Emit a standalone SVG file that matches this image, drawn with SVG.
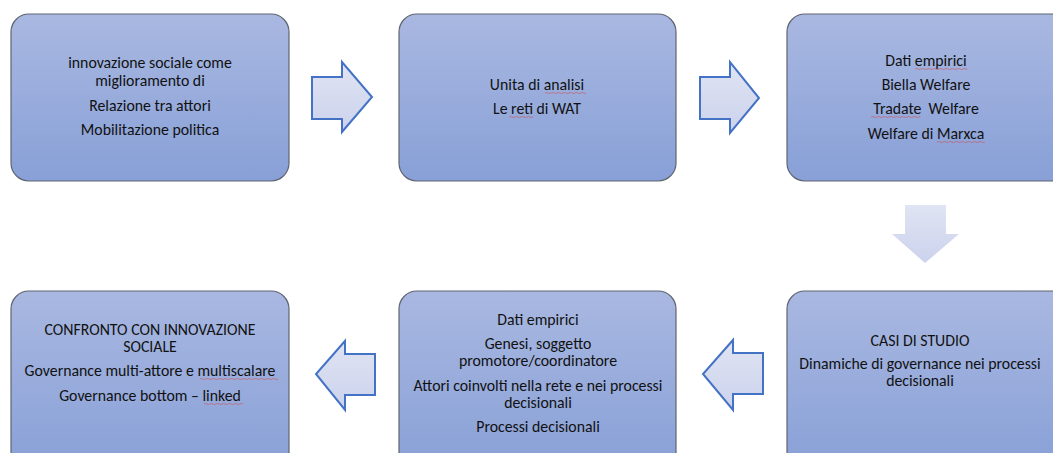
<svg xmlns="http://www.w3.org/2000/svg" width="1053" height="453" viewBox="0 0 1053 453">
  <defs>
    <linearGradient id="boxFill" x1="0" y1="0" x2="0" y2="1">
      <stop offset="0" stop-color="#a9b8e1"/>
      <stop offset="1" stop-color="#88a0d7"/>
    </linearGradient>
    <linearGradient id="arrowFill" x1="0" y1="0" x2="0" y2="1">
      <stop offset="0" stop-color="#e0e4f3"/>
      <stop offset="1" stop-color="#cbd2ec"/>
    </linearGradient>
  </defs>
  <style>
    .box { fill: url(#boxFill); stroke: #5f6470; stroke-width: 1.2; }
    .arrow { fill: url(#arrowFill); stroke: #4472c4; stroke-width: 2; stroke-linejoin: miter; }
    .arrow-faint { fill: url(#arrowFill); stroke: none; }
    .label { font-family: Carlito, Lato, "Liberation Sans", sans-serif; font-size: 15.8px; fill: #111111; text-anchor: middle; }
    .spell { fill: none; stroke: #d04a4a; stroke-width: 0.8; opacity: 0.7; }
  </style>

  <!-- flow connectors -->
  <g id="connectors">
    <polygon class="arrow" points="312,77 342,77 342,62 372,97 342,132 342,119 312,119"/>
    <polygon class="arrow" points="700,77 730,77 730,62 759,98 730,133 730,119 700,119"/>
    <polygon class="arrow-faint" points="905,205 946,205 946,234 959,234 925,263 892,234 905,234"/>
    <polygon class="arrow" points="763,353 733,353 733,340 703,374 733,410 733,394 763,394"/>
    <polygon class="arrow" points="375,354 345,354 345,341 316,374 345,410 345,395 375,395"/>
  </g>

  <g id="node-innovazione">
    <rect class="box" x="11" y="14" width="278" height="167" rx="18"/>
    <text class="label" x="150" y="68">innovazione sociale come</text>
    <text class="label" x="150" y="86">miglioramento di</text>
    <text class="label" x="150" y="111">Relazione tra attori</text>
    <text class="label" x="150" y="135">Mobilitazione politica</text>
  </g>

  <g id="node-unita">
    <rect class="box" x="399" y="14" width="277" height="167" rx="18"/>
    <text class="label" x="537" y="90">Unita di analisi</text>
    <text class="label" x="537" y="114">Le reti di WAT</text>
    <path class="spell" d="M545,93 q1.5,-1 3,0 t3,0 t3,0 t3,0 t3,0 t3,0 t3,0 t3,0 t3,0 t3,0 t3,0 t3,0 t3,0 t2,0"/>
    <path class="spell" d="M509,117 q1.5,-1 3,0 t3,0 t3,0 t3,0 t3,0 t3,0 t3,0 t3,0"/>
  </g>

  <g id="node-dati">
    <rect class="box" x="787" y="14" width="290" height="167" rx="18"/>
    <text class="label" x="926" y="66">Dati empirici</text>
    <text class="label" x="926" y="90">Biella Welfare</text>
    <text class="label" x="926" y="114" xml:space="preserve">Tradate  Welfare</text>
    <text class="label" x="926" y="139">Welfare di Marxca</text>
    <path class="spell" d="M915,69 q1.5,-1 3,0 t3,0 t3,0 t3,0 t3,0 t3,0 t3,0 t3,0 t3,0 t3,0 t3,0 t3,0 t3,0 t3,0 t3,0 t3,0 t3,0 t1,0"/>
    <path class="spell" d="M871,117 q1.5,-1 3,0 t3,0 t3,0 t3,0 t3,0 t3,0 t3,0 t3,0 t3,0 t3,0 t3,0 t3,0 t3,0 t3,0 t3,0 t3,0 t1,0"/>
    <path class="spell" d="M937,142 q1.5,-1 3,0 t3,0 t3,0 t3,0 t3,0 t3,0 t3,0 t3,0 t3,0 t3,0 t3,0 t3,0 t3,0 t3,0 t3,0 t3,0"/>
  </g>

  <g id="node-casi">
    <rect class="box" x="787" y="291" width="290" height="180" rx="18"/>
    <text class="label" x="920" y="346">CASI DI STUDIO</text>
    <text class="label" x="920" y="369">Dinamiche di governance nei processi</text>
    <text class="label" x="920" y="386">decisionali</text>
  </g>

  <g id="node-genesi">
    <rect class="box" x="399" y="291" width="277" height="180" rx="18"/>
    <text class="label" x="538" y="325">Dati empirici</text>
    <text class="label" x="538" y="349">Genesi, soggetto</text>
    <text class="label" x="538" y="366">promotore/coordinatore</text>
    <text class="label" x="538" y="391">Attori coinvolti nella rete e nei processi</text>
    <text class="label" x="538" y="408">decisionali</text>
    <text class="label" x="538" y="432">Processi decisionali</text>
  </g>

  <g id="node-confronto">
    <rect class="box" x="11" y="291" width="278" height="180" rx="18"/>
    <text class="label" x="150" y="335">CONFRONTO CON INNOVAZIONE</text>
    <text class="label" x="150" y="352">SOCIALE</text>
    <text class="label" x="150" y="376">Governance multi-attore e multiscalare</text>
    <text class="label" x="150" y="401">Governance bottom – linked</text>
    <path class="spell" d="M200,379 q1.5,-1 3,0 t3,0 t3,0 t3,0 t3,0 t3,0 t3,0 t3,0 t3,0 t3,0 t3,0 t3,0 t3,0 t3,0 t3,0 t3,0 t3,0 t3,0 t3,0 t3,0 t3,0 t3,0 t3,0 t3,0 t3,0 t3,0"/>
    <path class="spell" d="M204,404 q1.5,-1 3,0 t3,0 t3,0 t3,0 t3,0 t3,0 t3,0 t3,0 t3,0 t3,0 t3,0 t3,0 t3,0"/>
  </g>
</svg>
